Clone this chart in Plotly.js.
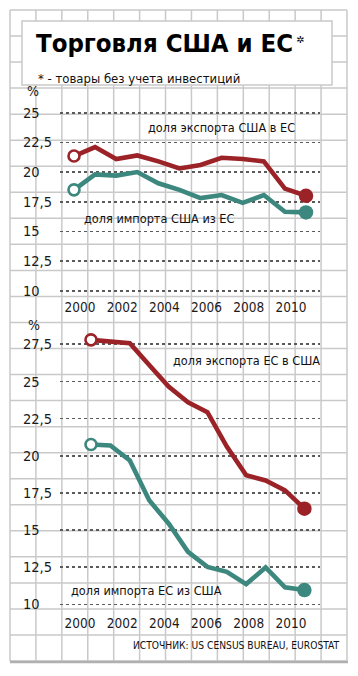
<!DOCTYPE html>
<html>
<head>
<meta charset="utf-8">
<script src="https://cdn.plot.ly/plotly-3.0.1.min.js"></script>
<style>
html,body{margin:0;padding:0;background:#fff;}
#chart{width:358px;height:676px;}
</style>
</head>
<body>
<div id="chart"></div>
<script>
// ---------- DATA ----------
var yearsTop = [2000,2001,2002,2003,2004,2005,2006,2007,2008,2009,2010,2011];
var usExportShareToEU   = [21.35,22.1,21.1,21.4,20.9,20.3,20.6,21.2,21.1,20.9,18.6,18.0];
var usImportShareFromEU = [18.5,19.8,19.7,20.0,19.05,18.5,17.8,18.06,17.4,18.06,16.65,16.6];

var yearsBottom = [2000,2001,2002,2003,2004,2005,2006,2007,2008,2009,2010,2011];
var euExportShareToUS   = [27.8,27.67,27.58,26.1,24.65,23.6,22.93,20.62,18.68,18.34,17.67,16.44];
var euImportShareFromUS = [20.76,20.69,19.68,17.0,15.44,13.53,12.52,12.19,11.36,12.48,11.14,10.96];

var yearTicks = [2000,2002,2004,2006,2008,2010];
var titleText = "Торговля США и ЕС";
var subtitleText = "* - товары без учета инвестиций";
var labelUsExport = "доля экспорта США в ЕС";
var labelUsImport = "доля импорта США из ЕС";
var labelEuExport = "доля экспорта ЕС в США";
var labelEuImport = "доля импорта ЕС из США";
var sourceText = "ИСТОЧНИК: US CENSUS BUREAU, EUROSTAT";

// ---------- STYLE ----------
var W = 358, H = 676;
function px(x){ return x / W; }
function py(y){ return 1 - y / H; }
var RED = "#9b2328", TEAL = "#3c887e", GRIDPAPER = "#c9c9c9";
var NARROW = "'DejaVu Sans Condensed', 'Liberation Sans', sans-serif";

function series(x, y, color, xa, ya){
  var n = y.length;
  var sizes = y.map(function(_, i){ return i === 0 ? 11 : (i === n-1 ? 14.5 : 0); });
  var fills = y.map(function(_, i){ return i === 0 ? "#ffffff" : color; });
  var lw = y.map(function(_, i){ return i === 0 ? 2.6 : 0; });
  return {
    x: x, y: y, xaxis: xa, yaxis: ya, type: "scatter", mode: "lines+markers",
    line: {color: color, width: 4.6},
    marker: {size: sizes, color: fills, opacity: 1, line: {color: color, width: lw}},
    hoverinfo: "skip", showlegend: false, cliponaxis: false
  };
}

var traces = [
  series(yearsTop, usExportShareToEU, RED, "x", "y"),
  series(yearsTop, usImportShareFromEU, TEAL, "x", "y"),
  series(yearsBottom, euExportShareToUS, RED, "x2", "y2"),
  series(yearsBottom, euImportShareFromUS, TEAL, "x2", "y2"),
  {x: [2005], y: [5], xaxis: "x3", yaxis: "y2", type: "scatter", mode: "markers",
   marker: {size: 1, opacity: 0}, showlegend: false, hoverinfo: "skip"}
];

// graph paper background
var shapes = [];
var gx0 = 10, gx1 = 347, gy0 = 10, gy1 = 661;
for (var i = 0; i <= 13; i++){
  var xx = gx0 + i * (gx1 - gx0) / 13;
  shapes.push({type:"line", xref:"paper", yref:"paper", layer:"below",
    x0:px(xx), x1:px(xx), y0:py(gy0), y1:py(gy1), line:{color:GRIDPAPER, width:1.5}});
}
for (var j = 0; j <= 25; j++){
  var yy = gy0 + j * (gy1 - gy0) / 25;
  shapes.push({type:"line", xref:"paper", yref:"paper", layer:"below",
    x0:px(gx0), x1:px(gx1), y0:py(yy), y1:py(yy), line:{color:GRIDPAPER, width:1.5}});
}
shapes.push({type:"line", xref:"paper", yref:"paper", layer:"below",
  x0:px(gx0), x1:px(gx1+1), y0:py(gy1+1), y1:py(gy1+1), line:{color:"#b0b0b0", width:2.5}});
shapes.push({type:"rect", xref:"paper", yref:"paper", layer:"below",
  x0:px(22), x1:px(332), y0:py(85), y1:py(21), fillcolor:"#ffffff", line:{color:GRIDPAPER, width:1.5}});

var tickFont = {family: NARROW, size: 14.5, color: "#1a1a1a"};
var yearFont = {family: NARROW, size: 13.5, color: "#1a1a1a"};

function yAxis(domTop, domBot, range){
  return {
    domain: [py(domBot), py(domTop)], range: range, anchor: "free", position: px(19),
    tick0: 10, dtick: 2.5, ticklabelposition: "inside", ticklabeloverflow: "allow",
    ticks: "", showline: false, zeroline: false,
    showgrid: true, gridcolor: "#5a5a5a", griddash: "dot", gridwidth: 1.6,
    tickfont: tickFont, fixedrange: true
  };
}

var xDom = [px(60), px(320)];
var topRange = [1999.336, 2011.664];
var layout = {
  width: W, height: H, margin: {l:0, r:0, t:0, b:0},
  paper_bgcolor: "#ffffff", plot_bgcolor: "rgba(0,0,0,0)",
  separators: ", ",
  showlegend: false,
  shapes: shapes,
  xaxis: {domain: xDom, range: topRange, anchor: "y", tickvals: yearTicks,
    ticklabelshift: 6, ticks: "", showgrid: false, zeroline: false, showline: false,
    tickfont: yearFont, fixedrange: true},
  yaxis: yAxis(100, 297, [9.469, 26.07]),
  xaxis2: {domain: xDom, range: [1998.402, 2011.804], anchor: "y2",
    showticklabels: false, ticks: "", showgrid: false, zeroline: false, showline: false, fixedrange: true},
  xaxis3: {overlaying: "x2", anchor: "y2", range: topRange, tickvals: yearTicks,
    ticklabelshift: 6, ticks: "", showgrid: false, zeroline: false, showline: false,
    tickfont: yearFont, fixedrange: true},
  yaxis2: yAxis(335, 613, [9.415, 28.126]),
  annotations: [
    {text: "<b>" + titleText + "</b>", xref:"paper", yref:"paper", x:px(34), y:py(43), xanchor:"left", yanchor:"middle",
     showarrow:false, font:{family: NARROW, size: 25.5, color:"#000", weight: 700}},
    {text: "✲", xref:"paper", yref:"paper", x:px(294), y:py(39), xanchor:"left", yanchor:"middle",
     showarrow:false, font:{family: "DejaVu Sans", size: 10, color:"#000"}},
    {text: subtitleText, xref:"paper", yref:"paper", x:px(36), y:py(78), xanchor:"left", yanchor:"middle",
     showarrow:false, font:{family: NARROW, size: 13, color:"#111"}},
    {text: "%", xref:"paper", yref:"paper", x:px(25), y:py(91), xanchor:"left", yanchor:"middle",
     showarrow:false, font:{family: NARROW, size: 14, color:"#1a1a1a"}},
    {text: "%", xref:"paper", yref:"paper", x:px(26), y:py(325), xanchor:"left", yanchor:"middle",
     showarrow:false, font:{family: NARROW, size: 14, color:"#1a1a1a"}},
    {text: labelUsExport, xref:"paper", yref:"paper", x:px(146), y:py(128), xanchor:"left", yanchor:"middle",
     showarrow:false, font:{family: NARROW, size: 12.6, color:"#111"}},
    {text: labelUsImport, xref:"paper", yref:"paper", x:px(82), y:py(218), xanchor:"left", yanchor:"middle",
     showarrow:false, font:{family: NARROW, size: 12.6, color:"#111"}},
    {text: labelEuExport, xref:"paper", yref:"paper", x:px(171), y:py(360), xanchor:"left", yanchor:"middle",
     showarrow:false, font:{family: NARROW, size: 12.6, color:"#111"}},
    {text: labelEuImport, xref:"paper", yref:"paper", x:px(69), y:py(590), xanchor:"left", yanchor:"middle",
     showarrow:false, font:{family: NARROW, size: 12.6, color:"#111"}},
    {text: sourceText, xref:"paper", yref:"paper", x:px(341), y:py(645), xanchor:"right", yanchor:"middle",
     showarrow:false, font:{family: NARROW, size: 10.2, color:"#111"}}
  ]
};

Plotly.newPlot("chart", traces, layout, {staticPlot: true, displayModeBar: false});
</script>
</body>
</html>
